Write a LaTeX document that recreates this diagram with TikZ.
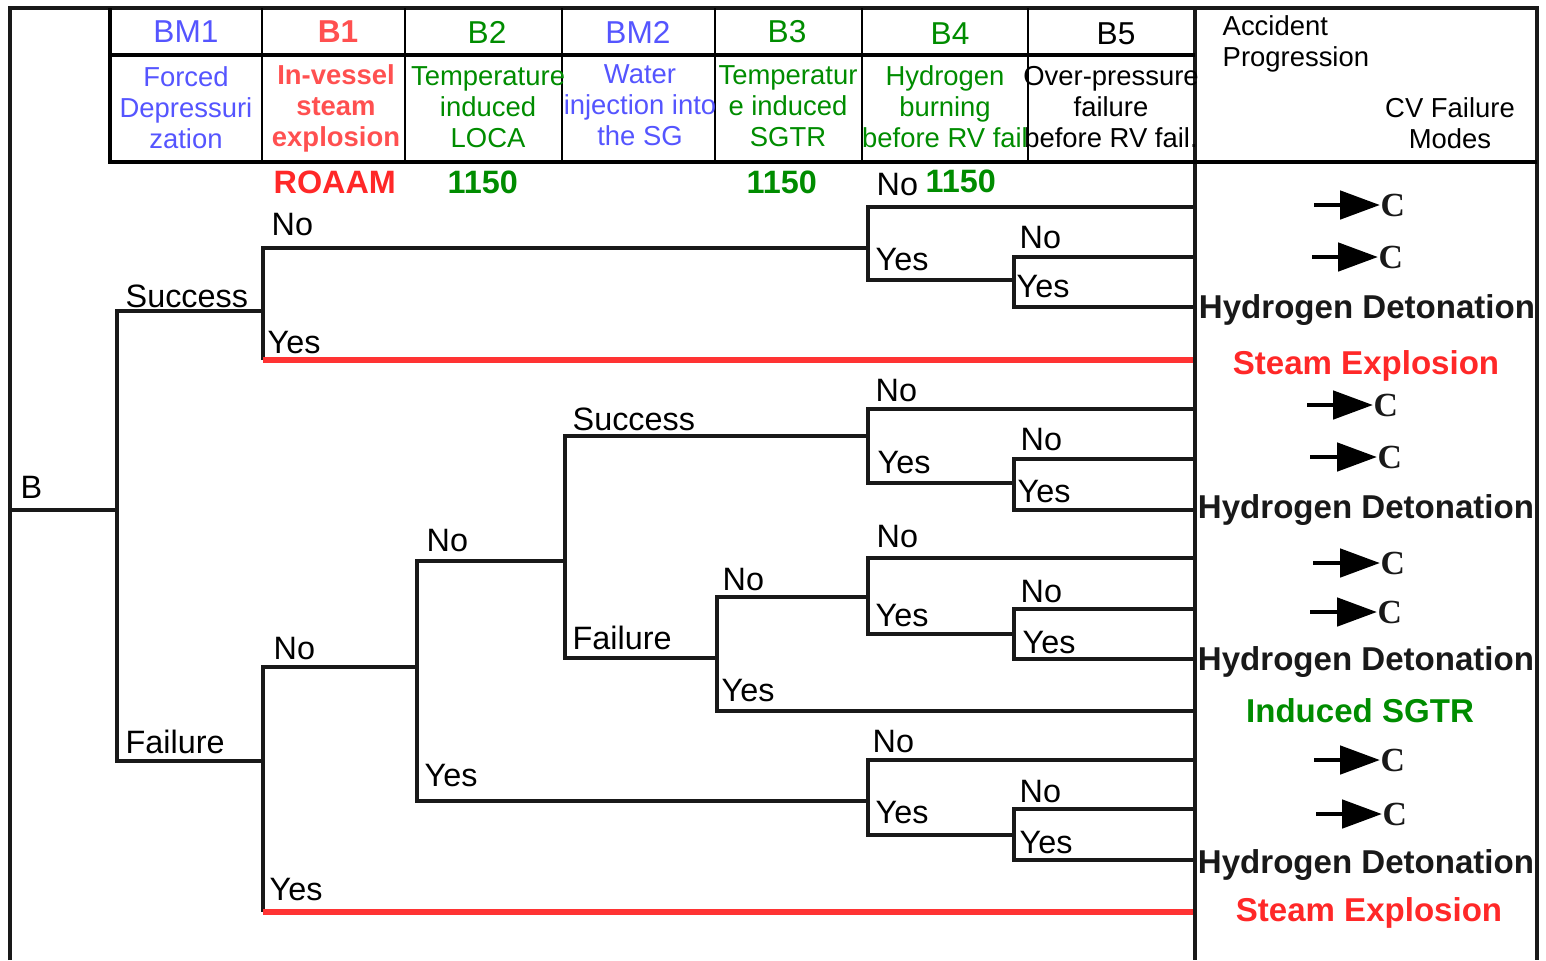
\documentclass[tikz,border=0pt]{standalone}
\usepackage{fontspec}
\setmainfont{Liberation Sans}
\newfontfamily\cvfont{Liberation Serif}
\usetikzlibrary{arrows.meta}

\definecolor{bmblue}{RGB}{85,85,255}
\definecolor{bred}{RGB}{255,80,80}
\definecolor{sered}{RGB}{255,40,40}
\definecolor{bgreen}{RGB}{0,140,0}

\newcommand{\hdfont}{\fontsize{9}{10}\selectfont}
\newcommand{\descfont}{\fontsize{7.8}{8.8}\selectfont}
\newcommand{\lblfont}{\fontsize{9.2}{10}\selectfont}
\newcommand{\modefont}{\fontsize{9.4}{10}\selectfont}

\begin{document}
\begin{tikzpicture}[x=0.01cm, y=-0.01cm,
  frameline/.style={line width=1pt, black!90},
  tabline/.style={line width=1.2pt, black},
  colline/.style={line width=0.75pt, black},
  br/.style={line width=1.1pt, black!90},
  sebr/.style={line width=1.45pt, red!80!white},
  hd/.style={inner sep=0pt, font=\hdfont},
  desc/.style={inner sep=0pt, align=center, font=\descfont},
  lbl/.style={inner sep=0pt, anchor=base west, font=\lblfont},
  thr/.style={inner sep=0pt, anchor=base west, font=\lblfont\bfseries},
  mode/.style={inner sep=0pt, anchor=base, font=\modefont\bfseries, black!90},
  cvc/.style={inner sep=0pt, anchor=west, font=\fontsize{9.6}{10}\cvfont\bfseries, black!90},
  cvarrow/.style={line width=1.4pt, -{Triangle[length=0.4cm, width=0.28cm]}}]
\useasboundingbox (0,0) rectangle (1546,960);

% frame and table
\draw[frameline] (10,960) -- (10,8) -- (1537,8) -- (1537,960);
\draw[frameline] (1195,8) -- (1195,960);
\draw[tabline] (110,8) -- (110,162) -- (1537,162);
\draw[tabline] (110,55) -- (1195,55);
\foreach \cx in {262,405,562,715,862,1028}
  \draw[colline] (\cx,8) -- (\cx,162);

% headings
\node[hd, text=bmblue] (hBM1) at (186,32) {BM1};
\node[hd, text=bred, font=\hdfont\bfseries] (hB1) at (338,32) {B1};
\node[hd, text=bgreen] (hB2) at (487,32) {B2};
\node[hd, text=bmblue] (hBM2) at (638,32) {BM2};
\node[hd, text=bgreen] (hB3) at (787,32) {B3};
\node[hd, text=bgreen] (hB4) at (950,34) {B4};
\node[hd] (hB5) at (1116,34) {B5};

\node[desc, text=bmblue] (dBM1) at (186,108) {Forced\\Depressuri\\zation};
\node[desc, text=bred, font=\descfont\bfseries] (dB1) at (336,108) {In-vessel\\steam\\explosion};
\node[desc, text=bgreen] (dB2) at (488,107) {Temperature\\induced\\LOCA};
\node[desc, text=bmblue] (dBM2) at (640,105) {Water\\injection into\\the SG};
\node[desc, text=bgreen] (dB3) at (788,106) {Temperatur\\e induced\\SGTR};
\node[desc, text=bgreen] (dB4) at (945,107) {Hydrogen\\burning\\before RV fail};
\node[desc] (dB5) at (1111,107) {Over-pressure\\failure\\before RV fail.};

\node[desc, align=left, anchor=north west] (hAP) at (1222,15) {Accident\\Progression};
\node[desc] (hCV) at (1450,123) {CV Failure\\Modes};

\node[thr, text=sered] (tB1) at (273,193) {ROAAM};
\node[thr, text=bgreen] (tB2) at (447,193) {1150};
\node[thr, text=bgreen] (tB3) at (746,193) {1150};
\node[thr, text=bgreen] (tB4) at (925,192) {1150};

% tree points
\coordinate (root) at (10,510);
\coordinate (f1) at (117,510);
\coordinate (f2) at (263,311);
\coordinate (f3) at (263,761);
\coordinate (f4) at (868,248);
\coordinate (f5) at (1014,280);
\coordinate (f6) at (417,667);
\coordinate (f7) at (565,561);
\coordinate (f8) at (868,801);
\coordinate (f9) at (868,436);
\coordinate (f10) at (717,658);
\coordinate (f11) at (1014,483);
\coordinate (f12) at (868,597);
\coordinate (f13) at (1014,634);
\coordinate (f14) at (1014,835);
\coordinate (se1) at (1193,360);
\coordinate (se2) at (1193,912);
\coordinate (o1) at (1193,207);
\coordinate (o2) at (1193,257);
\coordinate (o3) at (1193,307);
\coordinate (o4) at (1193,409);
\coordinate (o5) at (1193,459);
\coordinate (o6) at (1193,510);
\coordinate (o7) at (1193,711);
\coordinate (o8) at (1193,558);
\coordinate (o9) at (1193,609);
\coordinate (o10) at (1193,659);
\coordinate (o11) at (1193,760);
\coordinate (o12) at (1193,809);
\coordinate (o13) at (1193,860);

% branches
\draw[br] (root) -- (f1);
\draw[br] (f1) |- (f2);
\draw[br] (f1) |- (f3);
\draw[br] (f2) |- (f4);
\draw[br] (f2) -- (f2 |- se1);
\draw[sebr] (f2 |- se1) -- (se1);
\draw[br] (f4) |- (o1);
\draw[br] (f4) |- (f5);
\draw[br] (f5) |- (o2);
\draw[br] (f5) |- (o3);
\draw[br] (f3) |- (f6);
\draw[br] (f3) -- (f3 |- se2);
\draw[sebr] (f3 |- se2) -- (se2);
\draw[br] (f6) |- (f7);
\draw[br] (f6) |- (f8);
\draw[br] (f7) |- (f9);
\draw[br] (f7) |- (f10);
\draw[br] (f9) |- (o4);
\draw[br] (f9) |- (f11);
\draw[br] (f11) |- (o5);
\draw[br] (f11) |- (o6);
\draw[br] (f10) |- (f12);
\draw[br] (f10) |- (o7);
\draw[br] (f12) |- (o8);
\draw[br] (f12) |- (f13);
\draw[br] (f13) |- (o9);
\draw[br] (f13) |- (o10);
\draw[br] (f8) |- (o11);
\draw[br] (f8) |- (f14);
\draw[br] (f14) |- (o12);
\draw[br] (f14) |- (o13);

% branch labels
\node[lbl] (lB) at (20,498) {B};
\node[lbl] (l1s) at (125,307) {Success};
\node[lbl] (l1f) at (125,753) {Failure};
\node[lbl] (l2n) at (271,235) {No};
\node[lbl] (l2y) at (267,353) {Yes};
\node[lbl] (l4n) at (876,195) {No};
\node[lbl] (l4y) at (875,270) {Yes};
\node[lbl] (l5n) at (1019,248) {No};
\node[lbl] (l5y) at (1016,297) {Yes};
\node[lbl] (l3n) at (273,659) {No};
\node[lbl] (l3y) at (269,900) {Yes};
\node[lbl] (l6n) at (426,551) {No};
\node[lbl] (l6y) at (424,786) {Yes};
\node[lbl] (l7s) at (572,430) {Success};
\node[lbl] (l7f) at (572,649) {Failure};
\node[lbl] (l9n) at (875,401) {No};
\node[lbl] (l9y) at (877,473) {Yes};
\node[lbl] (l11n) at (1020,450) {No};
\node[lbl] (l11y) at (1017,502) {Yes};
\node[lbl] (l10n) at (722,590) {No};
\node[lbl] (l10y) at (721,701) {Yes};
\node[lbl] (l12n) at (876,547) {No};
\node[lbl] (l12y) at (875,626) {Yes};
\node[lbl] (l13n) at (1020,602) {No};
\node[lbl] (l13y) at (1022,653) {Yes};
\node[lbl] (l8n) at (872,752) {No};
\node[lbl] (l8y) at (875,823) {Yes};
\node[lbl] (l14n) at (1019,802) {No};
\node[lbl] (l14y) at (1019,853) {Yes};

% CV failure modes
\foreach \n/\xa/\xb/\y in {1/1314/1380/205, 2/1312/1378/257, 3/1307/1373/405,
    4/1310/1377/457, 5/1313/1380/563, 6/1310/1377/612, 7/1314/1380/760, 8/1316/1382/814} {
  \coordinate (a\n) at (\xa,\y);
  \node[cvc] (c\n) at (\xb,\y) {C};
  \draw[cvarrow] (a\n) -- (c\n);
}
\node[mode] (m1) at (1367,318) {Hydrogen Detonation};
\node[mode, text=sered] (m2) at (1366,374) {Steam Explosion};
\node[mode] (m3) at (1366,518) {Hydrogen Detonation};
\node[mode] (m4) at (1366,670) {Hydrogen Detonation};
\node[mode, text=bgreen] (m5) at (1360,722) {Induced SGTR};
\node[mode] (m6) at (1366,873) {Hydrogen Detonation};
\node[mode, text=sered] (m7) at (1369,921) {Steam Explosion};
\end{tikzpicture}
\end{document}
